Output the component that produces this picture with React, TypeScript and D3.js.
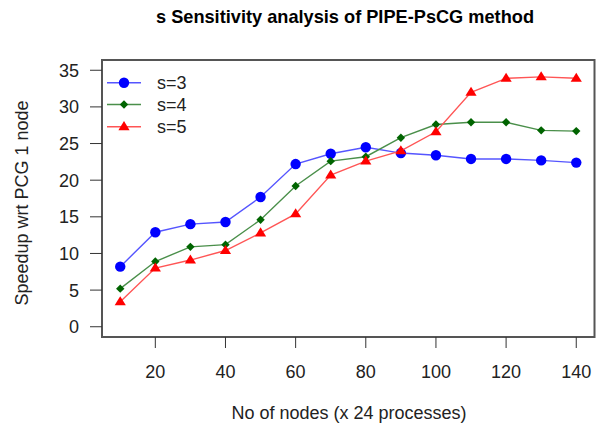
import React from "react";
import * as d3 from "d3";

const nodes = [10, 20, 30, 40, 50, 60, 70, 80, 90, 100, 110, 120, 130, 140];
const s3 = [8.2, 12.9, 14.0, 14.3, 17.7, 22.2, 23.6, 24.5, 23.7, 23.4, 22.9, 22.9, 22.7, 22.4];
const s4 = [5.2, 8.9, 10.9, 11.2, 14.6, 19.2, 22.6, 23.2, 25.8, 27.6, 27.9, 27.9, 26.8, 26.7];
const s5 = [3.4, 8.0, 9.1, 10.4, 12.8, 15.4, 20.7, 22.6, 24.0, 26.6, 32.0, 33.9, 34.1, 33.9];
const xTicks = [20, 40, 60, 80, 100, 120, 140];
const yTicks = [0, 5, 10, 15, 20, 25, 30, 35];
const seriesNames = ["s=3", "s=4", "s=5"];

const title = "s Sensitivity analysis of PIPE-PsCG method";
const xLabel = "No of nodes (x 24 processes)";
const yLabel = "Speedup wrt PCG 1 node";

const W = 603;
const H = 429;
const left = 102;
const right = 594.5;
const top = 60;
const bottom = 337;
const font = "'Liberation Sans', Arial, Helvetica, sans-serif";

const series = [
  { name: seriesNames[0], values: s3, color: "#0000ff", line: "#5555ff", shape: "circle" },
  { name: seriesNames[1], values: s4, color: "#006400", line: "#4a8f4a", shape: "diamond" },
  { name: seriesNames[2], values: s5, color: "#ff0000", line: "#ff5555", shape: "triangle" },
];

function Marker({ shape, x, y, color }: { shape: string; x: number; y: number; color: string }) {
  if (shape === "circle") return <circle cx={x} cy={y} r={5.2} fill={color} />;
  if (shape === "diamond") {
    const r = 4.2;
    return <path d={`M${x},${y - r}L${x + r},${y}L${x},${y + r}L${x - r},${y}Z`} fill={color} />;
  }
  const s = 5.6;
  return (
    <path
      d={`M${x},${y - s}L${x + s},${y + s * 0.62}L${x - s},${y + s * 0.62}Z`}
      fill={color}
    />
  );
}

export default function App() {
  const x = d3.scaleLinear().domain([4.8, 145.2]).range([left, right]);
  const y = d3.scaleLinear().domain([-1.4, 36.4]).range([bottom, top]);
  const line = d3
    .line<number>()
    .x((_, i) => x(nodes[i]))
    .y((d) => y(d));

  const legendY = [82.7, 104.5, 126.7];

  return (
    <svg
      width={W}
      height={H}
      style={{ position: "absolute", left: 0, top: 0, background: "#fff" }}
      fontFamily={font}
    >
      <rect x={0} y={0} width={W} height={H} fill="#fff" />
      <text x={345} y={23} textAnchor="middle" fontSize={18.2} fontWeight="bold" fill="#000">
        {title}
      </text>

      {series.map((s) => (
        <g key={s.name}>
          <path d={line(s.values) || ""} fill="none" stroke={s.line} strokeWidth={1.4} />
          {s.values.map((v, i) => (
            <Marker key={i} shape={s.shape} x={x(nodes[i])} y={y(v)} color={s.color} />
          ))}
        </g>
      ))}

      <rect x={left} y={top} width={right - left} height={bottom - top} fill="none" stroke="#555" strokeWidth={2} />

      {xTicks.map((t) => (
        <g key={t}>
          <line x1={x(t)} x2={x(t)} y1={bottom} y2={bottom + 11} stroke="#333" strokeWidth={1} />
          <text x={x(t)} y={378} textAnchor="middle" fontSize={18} fill="#222">
            {t}
          </text>
        </g>
      ))}
      {yTicks.map((t) => (
        <g key={t}>
          <line x1={left - 12} x2={left} y1={y(t)} y2={y(t)} stroke="#333" strokeWidth={1} />
          <text x={79} y={y(t)} dy="0.36em" textAnchor="end" fontSize={18} fill="#222">
            {t}
          </text>
        </g>
      ))}

      <text x={349} y={419} textAnchor="middle" fontSize={18} fill="#222">
        {xLabel}
      </text>
      <text transform={`translate(28, 203) rotate(-90)`} textAnchor="middle" fontSize={18} fill="#222">
        {yLabel}
      </text>

      {series.map((s, i) => (
        <g key={s.name}>
          <line x1={107} x2={141} y1={legendY[i]} y2={legendY[i]} stroke={s.line} strokeWidth={1.4} />
          <Marker shape={s.shape} x={124} y={legendY[i]} color={s.color} />
          <text x={157} y={legendY[i]} dy="0.36em" fontSize={18} fill="#222">
            {s.name}
          </text>
        </g>
      ))}
    </svg>
  );
}
